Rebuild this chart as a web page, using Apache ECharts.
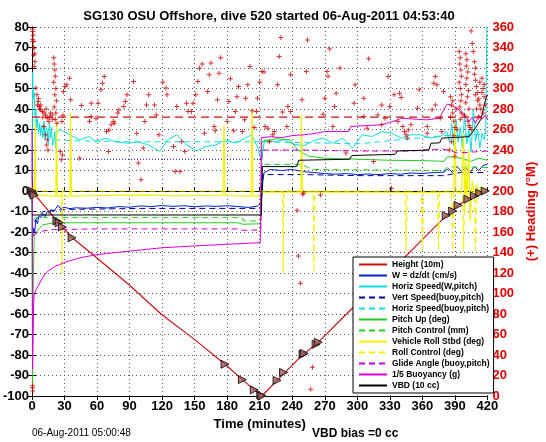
<!DOCTYPE html>
<html><head><meta charset="utf-8">
<script src="https://cdn.jsdelivr.net/npm/echarts/dist/echarts.min.js"></script>
<style>html,body{margin:0;padding:0;background:#fff}#c{width:546px;height:442px}</style>
</head><body><div id="c"></div>
<script>
// ---------------- data (time in minutes, value on left axis unless noted) ----------------
const titleText = 'SG130 OSU Offshore, dive 520 started 06-Aug-2011 04:53:40';
const xName = 'Time (minutes)';
const rightName = '(+) Heading (\u00b0M)';
const footLeft = '06-Aug-2011 05:00:48';
const footRight = 'VBD bias =0 cc';

const height = [[0,0],[3,-2],[23,-14.6],[37,-22.8],[56,-31],[90,-46],[119,-60],[150,-72.5],[178,-84.5],[194,-92],[205,-97],[212,-100],[226,-92.4],[250,-79.7],[262,-74.8],[290,-60],[320,-44.5],[350,-29],[382,-12],[393,-7],[402,-4],[409,-2],[415,-0.5],[418,0]];
const heightMarks = [[0,0],[1,-1],[2,-2],[23,-14.6],[25,-15.5],[28,-17.5],[37,-22.8],[178,-84.5],[194,-92],[205,-97],[211,-99.5],[212,-100],[226,-92.4],[232,-88.5],[250,-79.7],[251,-79.2],[262,-74.8],[264,-73.8],[382,-12],[388,-9.8],[393,-7],[402,-4],[408,-2.4],[413,-1],[418,0]];
const wSpeed = [[0,-3],[0.7,-22],[1.5,-18],[2.5,-20],[3.5,-14],[5,-16],[6.5,-12],[8,-13],[10,-11],[12,-12.5],[14,-10],[16,-11],[18,-9],[20,-10],[22,-8.5],[24,-7],[26,-8.5],[30,-8],[35,-8.6],[40,-8.2],[50,-8.4],[60,-8],[70,-8.3],[80,-7.6],[90,-7.9],[100,-7.3],[110,-7.6],[120,-7.1],[130,-7.5],[140,-7.2],[150,-7.7],[160,-7.3],[170,-7.5],[180,-7.2],[190,-7.6],[200,-8],[208,-7.4],[211,-6],[212,-2],[213,5],[214,9],[220,10.5],[230,10],[240,10.5],[250,9.5],[260,9],[270,8.5],[280,8.2],[290,8.5],[300,8],[310,8.3],[320,8],[330,8.5],[340,8.2],[350,8.8],[360,8.5],[370,9],[380,9.2],[384,11],[388,9],[392,12],[396,9.5],[400,11.5],[404,9],[408,12],[412,10],[416,12.5],[420,13]];
const vertSpeedBuoy = [[2,-15],[10,-10],[30,-9],[100,-8.5],[200,-8.5],[211,-8.5],[213,8],[250,8],[300,7.5],[380,7.5],[395,9],[420,9]];
const vertRef = [[0,15.5],[212,15.5]];
const horizSpeedW = [[0,5],[0.6,58],[1.2,45],[2,48],[2.8,36],[3.6,40],[4.3,31],[5,35],[6,28],[7,33],[8,27],[9,32],[10,26],[11,34],[12,25],[13,31],[14,30],[15,23],[16,33],[17,26],[18,31],[19,22],[20,24],[21,29],[22,21],[23,29],[25,30],[29,29],[35,27.4],[44,25],[53,26.6],[59,24],[68,25.8],[77,24],[89,23.3],[98,24],[107,22.5],[118,19.3],[125,25],[133.5,27.4],[142.5,22.5],[151.5,19.6],[160.5,21.7],[169.5,22.5],[178.5,25],[187.5,23.3],[196.5,25.8],[202.5,27.4],[208.5,20.9],[211.5,14.4],[214.5,25],[223.5,24],[232.5,25],[241.5,22.8],[250.5,22],[259.5,24.5],[268.5,25.8],[277.5,23.3],[286.5,25.8],[295.5,20.9],[304.5,27.4],[313.5,26.6],[322.5,29],[331.5,28.2],[340.5,25.8],[349.5,27.4],[358.5,27.4],[367.5,25.8],[376.5,26.6],[382.5,29],[385,24],[387,33],[389,22],[391,35],[393,24],[395,31],[397,21],[399,38],[401,23],[403,30],[405,19],[407,40],[409,24],[411,30],[413,21],[415,28],[417,25],[418.5,30],[419.5,85]];
const horizSpeedBuoy = [[2,35],[10,28],[20,25],[40,24.5],[100,24],[150,24],[200,24],[211,24],[214,24],[260,23.5],[300,23],[340,25],[380,27],[395,27],[420,28]];
const pitchUp = [[0,-3],[0.5,-95],[1,-50],[2,-22],[4,-20],[7,-18],[10,-16.5],[20,-15.5],[60,-15.5],[120,-15.5],[190,-15.5],[194,-16.2],[211,-16],[212,24],[225,25.5],[238,25],[245,20],[255,17],[270,16],[300,15.5],[330,15],[360,14.8],[380,14.5],[383,16.8],[395,16],[405,14.5],[412,16],[420,15]];
const pitchControl = [[1,-14],[3,-13],[194,-13],[195,-14.6],[211,-14.6],[212,13],[250,12.8],[258,10.5],[380,10],[383,11.8],[420,11.5]];
const rollStbd = [[0,0],[1,2],[2,-3],[3,33],[3.5,-2],[5,-2.5],[22,-2.5],[22.5,34],[23.5,-2.5],[35,-2.5],[35.5,38],[36.5,-2.5],[60,-2.2],[100,-2],[130,-2.3],[176,-2.2],[177,32],[178,-2.2],[202,-2.5],[203,40],[204,-2.5],[211,-2.5],[212,-0.5],[248,-0.5],[248.5,37],[249.5,-0.5],[300,-0.5],[360,-0.8],[389,-0.5],[390,34],[391,-0.5],[396,-1],[398,28],[399,-10],[400,15],[401,-5],[403,20],[404,-15],[406,5],[408,-1],[410,3],[412,-2],[414,2],[416,-1],[418,1],[420,0]];
const rollControl = [[0,0],[27,0],[27.6,-40],[28.2,0],[231,0],[231.6,-40],[232.2,0],[259.5,0],[260,-40],[260.5,0],[344,0],[345,-29],[346,0],[359,0],[360,-29],[361,0],[374,0],[375,-29],[376,0],[387,0],[388,-29],[389,0],[397,0],[398,-29],[399,0],[408,0],[409,-29],[410,0],[420,0]];
const glideAngle = [[1,-22],[3,-21],[6,-20],[10,-19.5],[20,-18.8],[60,-18.5],[120,-18.5],[190,-18.5],[194,-19.2],[211,-19],[212,20],[250,20],[300,19.5],[350,19.5],[378,20.5],[385,19.8],[392,18.5],[420,19.5]];
const buoyancy = [[0,30],[0.5,-87],[1,-70],[1.5,-55],[2,-50],[4,-48],[6,-46],[8,-44],[10,-42],[12,-40.5],[15,-39],[18,-38],[22,-36.5],[25,-36],[30,-34.8],[35,-34],[45,-32.5],[60,-31],[90,-29.3],[120,-27.7],[150,-26.8],[180,-26],[210.5,-25.2],[211.5,26],[220,26.5],[230,26],[240,27],[250,27.4],[260,28],[270,29],[292,29],[294,31.5],[322,32.3],[330,33.5],[337,34.7],[340,35.5],[364,34.7],[376,35.5],[380,40],[383,42.4],[390,41],[395,39],[400,36],[403,34],[406,36],[409,33],[412,37],[415,35],[418,37],[420,35]];
const vbd = [[0,-11.7],[211.5,-11.7],[212.5,11.9],[244,11.9],[246,15],[293,15.5],[295,17.3],[335,17.9],[337,19.5],[366,20],[368,23.3],[376,23.5],[378,25.8],[403,26.5],[408,30],[414,35],[418,44],[420,47]];
// heading (right axis, degrees)
const headingTarget = [[0,272],[420,272]];
const heading = [[0.3,358],[0.6,355.6],[1,352],[0.8,346],[1.5,345.8],[1.2,340],[2,339.4],[1.5,332.8],[2.7,326.4],[2,321.4],[0.5,348],[2.5,334],
[0.4,8],[0.7,5],[0.5,10],
[3.6,300.4],[4.5,293.8],[5.7,287.4],[6.6,282.4],[8,279.2],[9.6,277.6],[11,276],[5,284],[8,284],[12.6,274.2],[14,271],[15.6,267.8],[17,276],[18.6,274.2],[6,290],[7,280],[10,272],[13,280],[16,272],[19,270],[11,263],[12.6,254.8],[14,250],[13.5,245],[14.7,240],
[20,330],[20.5,324],[21,318],[21.5,312],[20,306],[22,300],[21,294],[22.5,288],[20.5,282],[22,276],[21.5,270],[23,266],
[26,238.6],[27,230.4],[28,235.2],[29,297],[30.5,302],[32,303.6],[34.5,310],[35.6,289],[27.6,267.8],[28.5,274],
[44,232],[45.6,283.4],[53,267.8],[54.5,272.6],[54.6,285.6],[59,271],[61,285.6],[63.6,298.8],[65,305.2],[66.6,311.8],[68.7,258],[71,259.6],[70.5,238.6],[73,264.6],[75,267.8],[76,266],[79,276],[80,279.2],[84.6,282.4],[86,287.4],[87.6,293.8],[93.6,306.8],[96.6,256.4],[98,227.2],[100.5,211],[102.6,242],[104,267.8],[105.6,284],[107.7,293.8],[113,284],[114.6,274.2],[117,254.8],[120.6,306],[123.6,300.4],[130.5,243.4],[132,219],
[124.5,293.8],[133.5,282.4],[136.5,219],[138,248],[141,238.6],[142.5,285.6],[144,277.6],[147,277.6],[148.5,285.6],[151,293.8],[153,306.8],[154.5,319.8],[157,323.8],[162,297],[163.5,313.4],[165,324.8],[159,256.4],[168,263],[169,258.8],[171,289],[172.5,315],[174,330],[180,267.8],[181.5,287.4],[183,309.4],[186,258.8],[187.5,277.6],[189,292],[190.5,302],[194,258],[196,269.4],[197,290.6],[199,303.6],[201,321.4],[203,278.2],[205,262],[207,277.6],[208,290.6],[210,306],[212,316.6],[214,316],[215,263],[217.5,261.2],[219,248],[222,254.8],[223.5,258],[226.5,303.6],[228,331.2],[229.5,349.8],[231,277],[235,263],[236,282.4],[238.5,313.4],[238.5,277.6],[249,289],[253,316.6],[254,347.4],[250.5,198],
[257,6.6],[258.6,28],[247.5,110],[245.7,136.6],[244.5,181.2],[249.6,196.8],[266,196],
[274.5,338.6],[273,312],[272,316.6],[270,290.6],[268.5,275],[279,282.4],[277.5,263],[280.5,295.4],[284,320],[289.5,237],[298,303.6],[297,285.6],[306,290.6],[306,272.6],[310.5,329],[309,261.2],[315,228.8],[319,274.2],[322.5,284],[322.5,264.6],[325.5,271],[328.5,311.8],[330,282.4],[331.5,202.8],[334,293.8],[337.5,267.8],[339,295.4],[340.5,291.2],[342,263],[343.5,258],[345,254.8],[346,251.6],[347,259.6],[349.5,264.6],[357,298.8],[355.5,280.8],[369,279.2],[372,311.8],[370.5,305.2],[373.5,303.6],[372,284],[376.5,271],[378,258],[379.5,297],[364.5,263],[364.5,256.4],
[394,336],[395,330],[394.5,324],[395.5,318],[396,312],[394,306],[395,300],[396,294],[395.5,288],[394.5,282],[396,276],[395,270],
[386,292],[387,284],[388,276],[389,268],[390,262],[388,288],[391,280],[386,272],[392,260],[389,254],[387,248],[385,240],[390,234],
[400,334],[401,328],[400.5,322],[402,316],[401,310],[400,304],[402.5,298],[401.5,292],[400,286],[403,280],[399,274],[402,268],[404,262],[405,260],[403,264],
[408,314],[409,308],[410,302],[411,296],[412,290],[413,284],[414,280],[409,294],[411,288],[413,306],[415,310],[416,300],[417,292],[418,284],[416,276],[415,296],[417,304],[410,280],[412,272],
[405,356],[406,344],[407,336],[408,326],[409,320]];

// ---------------- chart ----------------
const FONT = "'Liberation Sans', Arial, Helvetica, sans-serif";
const DASH = [6,4];
function line(name, data, color, dashed, width, z) {
  return { name, type:'line', data, symbol:'none', z: z||2, animation:false,
    lineStyle:{ color, width: width||1, type: dashed ? DASH : 'solid' }, itemStyle:{ color } };
}
const legendNames = ['Height (10m)','W = dz/dt (cm/s)','Horiz Speed(W,pitch)','Vert Speed(buoy,pitch)','Horiz Speed(buoy,pitch)','Pitch Up (deg)','Pitch Control (mm)','Vehicle Roll Stbd (deg)','Roll Control (deg)','Glide Angle (buoy,pitch)','1/5 Buoyancy (g)','VBD (10 cc)'];

const chart = echarts.init(document.getElementById('c'), null, {renderer:'canvas'});
const axisCommon = { axisLine:{show:true, lineStyle:{color:'#000', width:1}}, axisTick:{show:true, inside:true, length:4, lineStyle:{color:'#000'}} };
chart.setOption({
  animation:false,
  backgroundColor:'#fff',
  title:{ text:titleText, left:264, textAlign:'center', top:5, textStyle:{fontFamily:FONT, fontSize:13, fontWeight:'bold', color:'#000'} },
  grid:{ left:31, right:49, top:27, bottom:46, containLabel:false },
  legend:{ data:legendNames, orient:'vertical', left:353, top:257, itemWidth:28, itemHeight:9, itemGap:2,
    padding:[3,4,3,5], backgroundColor:'#fff', borderColor:'#000', borderWidth:1, borderRadius:0,
    itemStyle:{opacity:0}, lineStyle:{opacity:1},
    textStyle:{fontFamily:FONT, fontSize:8.5, fontWeight:'bold', color:'#000'}, selectedMode:false, z:20 },
  xAxis:[
    Object.assign({ type:'value', min:0, max:420, interval:30, position:'bottom',
      name:xName, nameLocation:'middle', nameGap:17, nameTextStyle:{fontFamily:FONT, fontSize:13, fontWeight:'bold', color:'#000'},
      axisLabel:{fontFamily:FONT, fontSize:13, fontWeight:'bold', color:'#000', margin:4},
      splitLine:{show:true, lineStyle:{color:'#555', type:[1,3], width:1}} }, axisCommon),
    Object.assign({ type:'value', min:0, max:420, interval:30, position:'top', axisLabel:{show:false}, splitLine:{show:false} }, axisCommon)
  ],
  yAxis:[
    Object.assign({ type:'value', min:-100, max:80, interval:10, position:'left',
      axisLabel:{fontFamily:FONT, fontSize:13, fontWeight:'bold', color:'#000', margin:3},
      splitLine:{show:true, lineStyle:{color:'#555', type:[1,3], width:1}} }, axisCommon),
    Object.assign({ type:'value', min:0, max:360, interval:20, position:'right',
      name:rightName, nameLocation:'middle', nameGap:34, nameRotate:90,
      nameTextStyle:{fontFamily:FONT, fontSize:13, fontWeight:'bold', color:'#e00000'},
      axisLabel:{fontFamily:FONT, fontSize:13, fontWeight:'bold', color:'#e00000', margin:5},
      splitLine:{show:false} }, axisCommon)
  ],
  graphic:[
    { type:'text', left:32, top:428, style:{ text:footLeft, font:'10px '+FONT, fill:'#000' } },
    { type:'text', left:312, top:428, style:{ text:footRight, font:'bold 12px '+FONT, fill:'#000' } }
  ],
  series:[
    line('Height (10m)', height, '#cc1111', false, 1.2, 3),
    line('W = dz/dt (cm/s)', wSpeed, '#0022cc', false, 1, 3),
    line('Horiz Speed(W,pitch)', horizSpeedW, '#11dddd', false, 1, 3),
    line('Vert Speed(buoy,pitch)', vertSpeedBuoy, '#000099', true, 1, 3),
    { type:'line', data:vertRef, symbol:'none', z:3, lineStyle:{color:'#0000cc', width:1, type:[1,2]} },
    line('Horiz Speed(buoy,pitch)', horizSpeedBuoy, '#11dddd', true, 1, 3),
    line('Pitch Up (deg)', pitchUp, '#22cc22', false, 1, 3),
    line('Pitch Control (mm)', pitchControl, '#22cc22', true, 1, 3),
    line('Vehicle Roll Stbd (deg)', rollStbd, '#f2f200', false, 1.2, 3),
    line('Roll Control (deg)', rollControl, '#f2f200', true, 1.2, 3),
    line('Glide Angle (buoy,pitch)', glideAngle, '#cc00cc', true, 1, 3),
    line('1/5 Buoyancy (g)', buoyancy, '#dd00dd', false, 1, 3),
    line('VBD (10 cc)', vbd, '#000000', false, 1, 3),
    { type:'line', data:headingTarget, yAxisIndex:1, symbol:'none', z:4, lineStyle:{color:'#cc1111', width:1.3, type:[8,5]} },
    { type:'scatter', data:heading, yAxisIndex:1, symbol:'path://M2,0H3V2H5V3H3V5H2V3H0V2H2Z', symbolSize:5, z:5, itemStyle:{color:'#cc0000'} },
    { type:'scatter', data:heightMarks, symbol:'triangle', symbolRotate:-90, symbolSize:8, z:6, itemStyle:{color:'#a05a5a', borderColor:'#000', borderWidth:1} }
  ]
});
</script></body></html>
